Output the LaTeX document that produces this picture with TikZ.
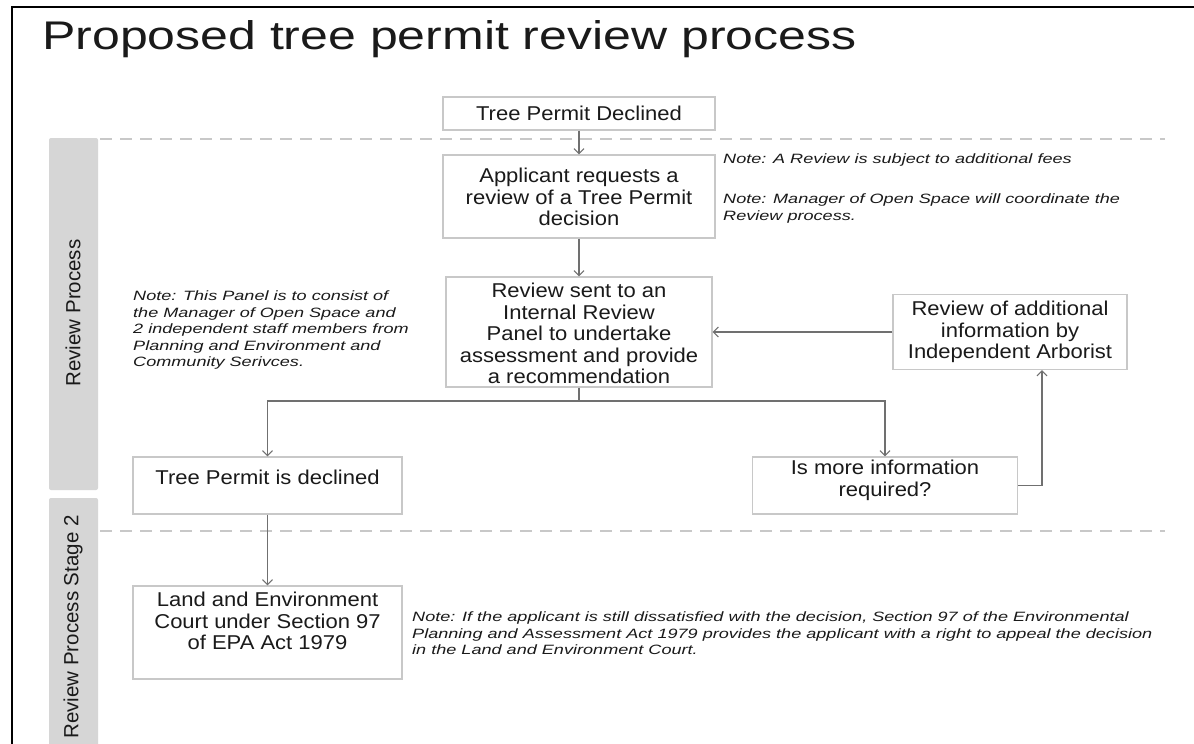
\documentclass[tikz,border=0pt]{standalone}
\usepackage{fontspec}
\setmainfont{Liberation Sans}
\newfontfamily\titlefont{Liberation Sans}[FakeStretch=1.25]
\newfontfamily\boxfont{Liberation Sans}[FakeStretch=1.1]
\newfontfamily\notefont{Liberation Sans}[FakeStretch=1.34]
\usetikzlibrary{arrows.meta}
\definecolor{boxline}{HTML}{C8C8C8}
\definecolor{arrowc}{HTML}{707070}
\definecolor{barfill}{HTML}{D6D6D6}
\definecolor{dashc}{HTML}{C8C8C8}
\definecolor{txt}{HTML}{1A1A1A}
\begin{document}
\begin{tikzpicture}[x=1pt,y=-1pt,
  box/.style={draw=boxline, line width=1.2pt, fill=white, inner sep=0pt},
  boxtext/.style={font=\boxfont\fontsize{20}{21.5}\selectfont, text=txt, align=center, inner sep=0pt},
  note/.style={font=\notefont\itshape\fontsize{13.5}{16.5}\selectfont, text=txt, align=left, inner sep=0pt},
  arr/.style={draw=arrowc, line width=1.1pt, -{Straight Barb[length=5pt,width=10pt]}},
  conn/.style={draw=arrowc, line width=1.1pt},
  sep/.style={draw=dashc, line width=1.3pt, dash pattern=on 12pt off 8pt},
  bar/.style={fill=barfill, draw=none, rounded corners=2pt},
  barlabel/.style={font=\fontsize{20.5}{22}\selectfont, text=txt, rotate=90, inner sep=0pt},
  frame/.style={draw=black, line width=2.5pt},
]
\useasboundingbox (0,0) rectangle (1194,744);
\fill[white] (0,0) rectangle (1194,744);

% frame
\coordinate (fbl) at (12,744);
\coordinate (ftl) at (12,7);
\coordinate (ftr) at (1194,7);
\draw[frame] (fbl) -- (ftl) -- (ftr);

% title
\node[anchor=base west, font=\titlefont\fontsize{40}{48}\selectfont, text=txt, inner sep=0pt] (title) at (42,49) {Proposed tree permit review process};

% side bars
\path[bar] (49,138) rectangle (98,490);
\path[bar] (49,498) rectangle (98,750);
\node[barlabel] (bl1) at (73,313) {Review Process};
\node[barlabel] (bl2) at (73,627) {Review Process Stage 2};

% separators
\coordinate (d1a) at (100,139);
\coordinate (d1b) at (1165,139);
\coordinate (d2a) at (100,531);
\coordinate (d2b) at (1165,531);
\draw[sep] (d1a) -- (d1b);
\draw[sep] (d2a) -- (d2b);

% boxes
\node[box, minimum width=272pt, minimum height=33pt] (tpd) at (579,113.5) {};
\node[boxtext] (tpdT) at (579,113.5) {Tree Permit Declined};

\node[box, minimum width=272pt, minimum height=83pt] (app) at (579,196.5) {};
\node[boxtext] (appT) at (579,197) {Applicant requests a\\review of a Tree Permit\\decision};

\node[box, minimum width=266pt, minimum height=110pt] (rev) at (579,332) {};
\node[boxtext] (revT) at (579,333.5) {Review sent to an\\Internal Review\\Panel to undertake\\assessment and provide\\a recommendation};

\node[box, minimum width=234pt, minimum height=75pt] (arb) at (1010,332) {};
\node[boxtext] (arbT) at (1010,332) {Review of additional\\information by\\Independent Arborist};

\node[box, minimum width=269pt, minimum height=57pt] (tpid) at (267.5,485.5) {};
\node[boxtext] (tpidT) at (267.5,477) {Tree Permit is declined};

\node[box, minimum width=265pt, minimum height=57pt] (more) at (885,485.5) {};
\node[boxtext] (moreT) at (885,480.5) {Is more information\\required?};

\node[box, minimum width=269pt, minimum height=93pt] (land) at (267.5,632.5) {};
\node[boxtext] (landT) at (267.5,621) {Land and Environment\\Court under Section 97\\of EPA Act 1979};

% notes
\node[note, anchor=west] (n1) at (723,160) {Note: A Review is subject to additional fees};
\node[note, anchor=north west] (n2) at (723,194) {Note: Manager of Open Space will coordinate the\\Review process.};
\node[note, anchor=north west] (n3) at (133,291) {Note: This Panel is to consist of\\the Manager of Open Space and\\2 independent staff members from\\Planning and Environment and\\Community Serivces.};
\node[note, anchor=north west] (n4) at (412,612) {Note: If the applicant is still dissatisfied with the decision, Section 97 of the Environmental\\Planning and Assessment Act 1979 provides the applicant with a right to appeal the decision\\in the Land and Environment Court.};

% connectors
\draw[arr] (tpd.south) -- (app.north);
\draw[arr] (app.south) -- (rev.north);
\draw[arr] (arb.west) -- (rev.east);
\coordinate (split) at (579,401);
\draw[conn] (rev.south) -- (split);
\draw[arr] (split) -| (tpid.north);
\draw[arr] (split) -| (more.north);
\draw[arr] (more.east) -| ([xshift=32pt]arb.south);
\draw[arr] (tpid.south) -- (land.north);
\end{tikzpicture}
\end{document}
